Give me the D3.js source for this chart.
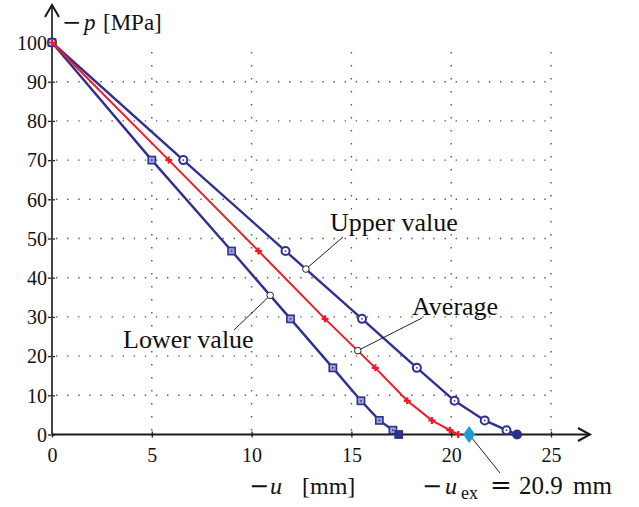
<!DOCTYPE html>
<html>
<head>
<meta charset="utf-8">
<script src="https://cdn.jsdelivr.net/npm/d3@7"></script>
<style>
  html, body { margin: 0; padding: 0; background: #fff; }
  svg { display: block; }
  text { font-family: "Liberation Serif", "Times New Roman", serif; fill: #111; }
  .math { font-family: "DejaVu Serif", serif; }
</style>
</head>
<body>
<svg id="chart" width="639" height="507"></svg>
<script>
// Pressure levels (MPa) shared by all three load–displacement curves
const pressure = [100, 70, 46.8, 29.5, 17, 8.6, 3.6, 1.1, 0];
// Displacement -u (mm) for the lower bound, upper bound and average
const lowerU   = [0, 5.0, 9.0, 11.95, 14.07, 15.48, 16.4, 17.08, 17.37];
const upperU   = [0, 6.58, 11.7, 15.53, 18.28, 20.17, 21.68, 22.77, 23.3];
const averageU = [0, 5.85, 10.35, 13.68, 16.2, 17.8, 19.03, 19.93, 20.35];
// Experimental displacement at p = 0
const uExp = 20.9;
// Axis ticks
const xTicks = [0, 5, 10, 15, 20, 25];
const yTicks = [0, 10, 20, 30, 40, 50, 60, 70, 80, 90, 100];
const xGrid = [5, 10, 15, 20, 25];
const yGrid = [10, 20, 30, 40, 50, 60, 70, 80, 90];
// Callout anchor points on the curves (u, p)
const upperCallout = { u: 12.72, p: 42.2, text: "Upper value" };
const lowerCallout = { u: 10.93, p: 35.5, text: "Lower value" };
const avgCallout   = { u: 15.32, p: 21.4, text: "Average" };

const BLUE = "#2e3192", RED = "#ed1c24", CYAN = "#1e9ad6";

const svg = d3.select("#chart");
const x = d3.scaleLinear().domain([0, 25]).range([52, 551]);
const y = d3.scaleLinear().domain([0, 100]).range([434.5, 42.5]);

// dotted grid
const grid = svg.append("g").attr("stroke", "#555").attr("stroke-width", 1.4);
grid.selectAll("line.h").data(yGrid).join("line")
  .attr("x1", x(0) + 4).attr("x2", x(25))
  .attr("y1", d => y(d)).attr("y2", d => y(d))
  .attr("stroke-dasharray", "1.4,9.7");
grid.selectAll("line.v").data(xGrid).join("line")
  .attr("x1", d => x(d)).attr("x2", d => x(d))
  .attr("y1", y(0) - 4).attr("y2", y(100))
  .attr("stroke-dasharray", "1.4,11.6");

// axes with ticks and labels
const xAxis = svg.append("g").attr("transform", `translate(0,${y(0)})`)
  .call(d3.axisBottom(x).tickValues(xTicks).tickSize(3).tickFormat(d3.format("d")));
xAxis.select(".domain").remove();
xAxis.selectAll(".tick line").attr("y1", -3).attr("y2", 3).attr("stroke", "#222").attr("stroke-width", 1.3);
xAxis.selectAll(".tick text").attr("y", 27.5).attr("dy", 0)
  .style("font-family", "Liberation Serif, serif").style("font-size", "20px").attr("fill", "#111");

const yAxis = svg.append("g").attr("transform", `translate(${x(0)},0)`)
  .call(d3.axisLeft(y).tickValues(yTicks).tickSize(3).tickFormat(d3.format("d")));
yAxis.select(".domain").remove();
yAxis.selectAll(".tick line").attr("x1", -4).attr("x2", 3).attr("stroke", "#222").attr("stroke-width", 1.3);
yAxis.selectAll(".tick text").attr("x", -5).attr("dy", "0.34em")
  .style("font-family", "Liberation Serif, serif").style("font-size", "20px").attr("fill", "#111");

// axis lines with open arrowheads
svg.append("line").attr("x1", x(0)).attr("x2", 590).attr("y1", y(0)).attr("y2", y(0))
  .attr("stroke", "#1a1a1a").attr("stroke-width", 2);
svg.append("path").attr("d", `M578,${y(0) - 6.5} L590,${y(0)} L578,${y(0) + 6.5}`)
  .attr("fill", "none").attr("stroke", "#1a1a1a").attr("stroke-width", 2);
svg.append("line").attr("x1", x(0)).attr("x2", x(0)).attr("y1", y(0)).attr("y2", 5)
  .attr("stroke", "#444").attr("stroke-width", 2);
svg.append("path").attr("d", `M${x(0) - 7},17 L${x(0)},5 L${x(0) + 7},17`)
  .attr("fill", "none").attr("stroke", "#1a1a1a").attr("stroke-width", 2);

// curves
const line = d3.line().x(d => x(d[0])).y(d => y(d[1]));
const lowerPts = lowerU.map((u, i) => [u, pressure[i]]);
const upperPts = upperU.map((u, i) => [u, pressure[i]]);
const avgPts = averageU.map((u, i) => [u, pressure[i]]);

svg.append("path").datum(lowerPts).attr("d", line)
  .attr("fill", "none").attr("stroke", BLUE).attr("stroke-width", 2.4);
svg.append("path").datum(upperPts).attr("d", line)
  .attr("fill", "none").attr("stroke", BLUE).attr("stroke-width", 2.4);

// lower: squares with centre dot
const sq = svg.append("g").selectAll("g").data(lowerPts).join("g")
  .attr("transform", d => `translate(${x(d[0])},${y(d[1])})`);
sq.append("rect").attr("x", -3.6).attr("y", -3.6).attr("width", 7.2).attr("height", 7.2)
  .attr("fill", d => d[1] === 0 ? BLUE : "#9ea2d2").attr("stroke", BLUE).attr("stroke-width", 1.6);
sq.append("circle").attr("r", 0.9).attr("fill", BLUE);

// upper: circles with centre dot
const ci = svg.append("g").selectAll("g").data(upperPts).join("g")
  .attr("transform", d => `translate(${x(d[0])},${y(d[1])})`);
ci.append("circle").attr("r", 4)
  .attr("fill", d => d[1] === 0 ? BLUE : "#fff").attr("stroke", BLUE).attr("stroke-width", 2);
ci.append("circle").attr("r", 0.9).attr("fill", BLUE);

// average: red line with plus markers
svg.append("path").datum(avgPts).attr("d", line)
  .attr("fill", "none").attr("stroke", RED).attr("stroke-width", 2);
svg.append("g").selectAll("path").data(avgPts).join("path")
  .attr("d", d => `M${x(d[0]) - 3.5},${y(d[1])} h7 M${x(d[0])},${y(d[1]) - 3.5} v7`)
  .attr("stroke", RED).attr("stroke-width", 2.2);

// experimental value marker
const ex = x(uExp), ey = y(0);
svg.append("line").attr("x1", ex).attr("y1", ey).attr("x2", 500).attr("y2", 473)
  .attr("stroke", "#222").attr("stroke-width", 1);
svg.append("path").attr("d", `M${ex},${ey - 8.5} L${ex + 6},${ey} L${ex},${ey + 8.5} L${ex - 6},${ey} Z`)
  .attr("fill", CYAN);

// callouts
function callout(c, endX, endY, tx, ty) {
  const px = x(c.u), py = y(c.p);
  svg.append("line").attr("x1", px).attr("y1", py).attr("x2", endX).attr("y2", endY)
    .attr("stroke", "#222").attr("stroke-width", 1);
  svg.append("circle").attr("cx", px).attr("cy", py).attr("r", 3.3)
    .attr("fill", "#fff").attr("stroke", "#222").attr("stroke-width", 1);
  svg.append("text").attr("x", tx).attr("y", ty).style("font-size", "26px").text(c.text);
}
callout(upperCallout, 343, 237, 330, 231);
callout(lowerCallout, 234, 330, 123, 348);
callout(avgCallout, 422, 318, 412, 315);

// axis titles
const pt = svg.append("text").attr("y", 30).style("font-size", "23px");
pt.append("tspan").attr("class", "math").attr("x", 62).text("\u2212");
pt.append("tspan").attr("x", 84).style("font-style", "italic").text("p");
pt.append("tspan").attr("x", 103).text("[MPa]");

const ut = svg.append("text").attr("y", 494).style("font-size", "24px");
ut.append("tspan").attr("class", "math").attr("x", 249).text("\u2212");
ut.append("tspan").attr("x", 270).style("font-style", "italic").text("u");
ut.append("tspan").attr("x", 302).text("[mm]");

const et = svg.append("text").attr("y", 494).style("font-size", "24px");
et.append("tspan").attr("class", "math").attr("x", 422).text("\u2212");
et.append("tspan").attr("x", 445).style("font-style", "italic").text("u");
et.append("tspan").attr("x", 461).attr("dy", 5).style("font-size", "18px").text("ex");
et.append("tspan").attr("class", "math").attr("x", 490).attr("dy", -5).style("font-size", "26px").text("=");
et.append("tspan").attr("x", 519).style("font-size", "25px").text("20.9");
et.append("tspan").attr("x", 573).style("font-size", "25px").text("mm");
</script>
</body>
</html>
